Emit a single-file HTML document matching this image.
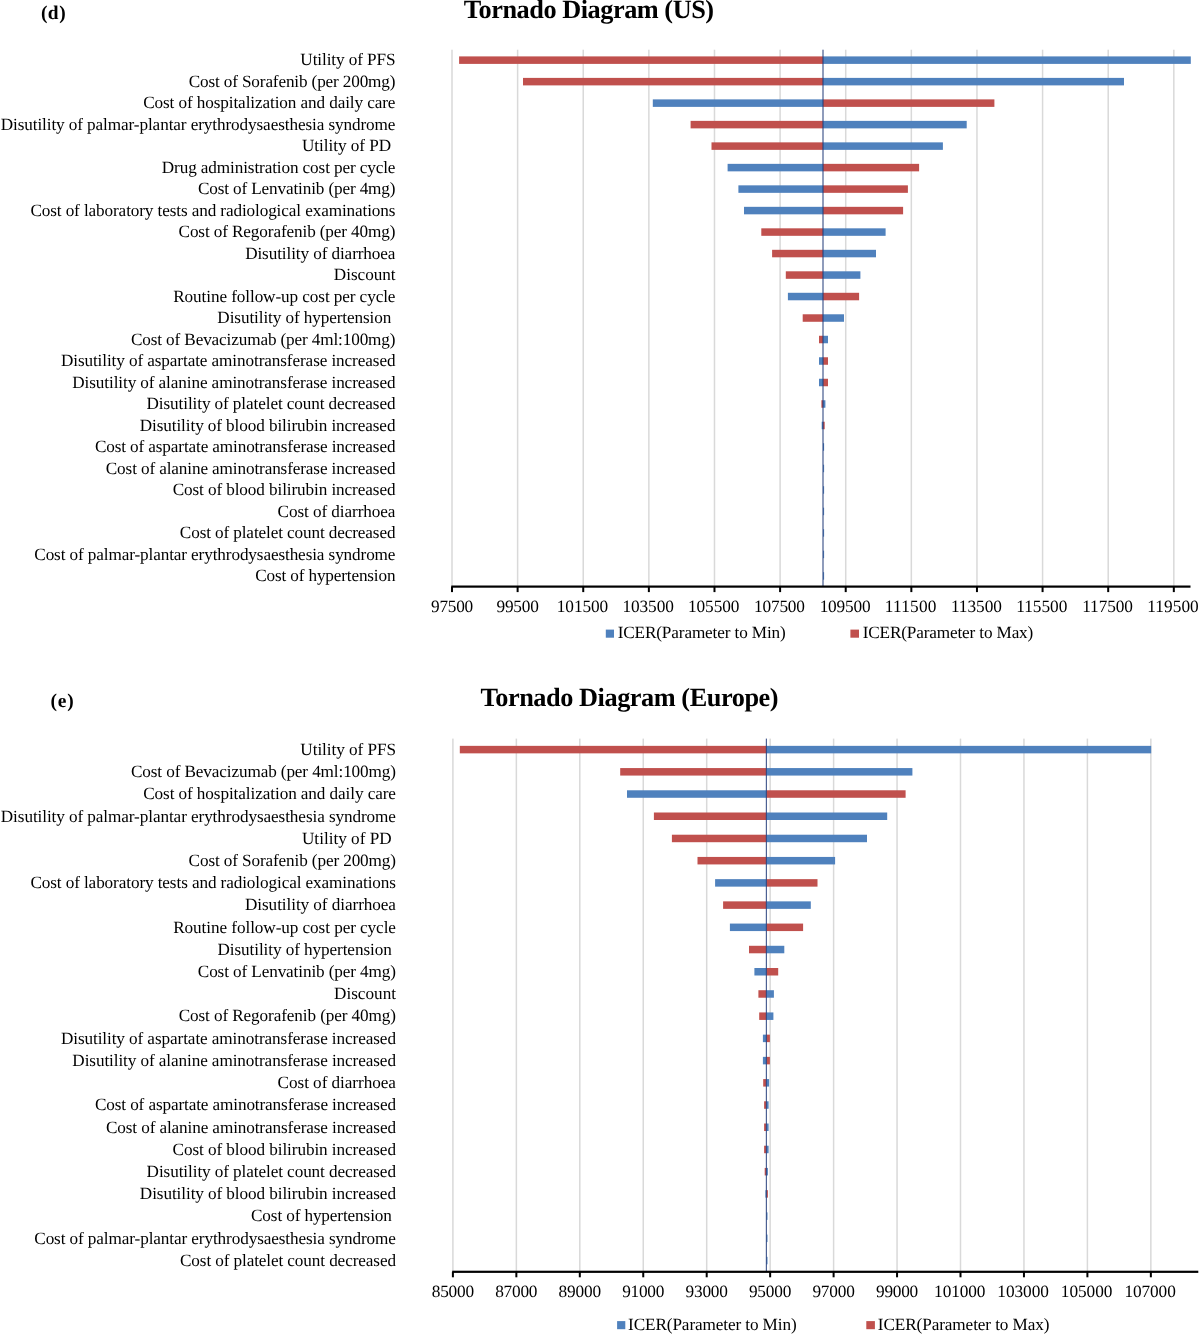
<!DOCTYPE html>
<html><head><meta charset="utf-8"><title>Tornado Diagrams</title>
<style>
html,body{margin:0;padding:0;background:#fff;width:1200px;height:1335px;overflow:hidden;}
svg{display:block;will-change:transform;font-family:"Liberation Serif",serif;text-rendering:geometricPrecision;}
text{fill:#000;}
</style></head><body>
<svg width="1200" height="1335" viewBox="0 0 1200 1335">
<rect width="1200" height="1335" fill="#fff"/>
<rect x="451.25" y="49.7" width="1.5" height="536.9" fill="#D9D9D9"/>
<rect x="516.87" y="49.7" width="1.5" height="536.9" fill="#D9D9D9"/>
<rect x="582.49" y="49.7" width="1.5" height="536.9" fill="#D9D9D9"/>
<rect x="648.11" y="49.7" width="1.5" height="536.9" fill="#D9D9D9"/>
<rect x="713.73" y="49.7" width="1.5" height="536.9" fill="#D9D9D9"/>
<rect x="779.35" y="49.7" width="1.5" height="536.9" fill="#D9D9D9"/>
<rect x="844.97" y="49.7" width="1.5" height="536.9" fill="#D9D9D9"/>
<rect x="910.59" y="49.7" width="1.5" height="536.9" fill="#D9D9D9"/>
<rect x="976.21" y="49.7" width="1.5" height="536.9" fill="#D9D9D9"/>
<rect x="1041.83" y="49.7" width="1.5" height="536.9" fill="#D9D9D9"/>
<rect x="1107.45" y="49.7" width="1.5" height="536.9" fill="#D9D9D9"/>
<rect x="1173.07" y="49.7" width="1.5" height="536.9" fill="#D9D9D9"/>
<rect x="459.1" y="56.4" width="363.9" height="7.5" fill="#C0504D"/>
<rect x="823" y="56.4" width="367.8" height="7.5" fill="#4F81BD"/>
<rect x="523" y="77.89" width="300" height="7.5" fill="#C0504D"/>
<rect x="823" y="77.89" width="301" height="7.5" fill="#4F81BD"/>
<rect x="652.8" y="99.38" width="170.2" height="7.5" fill="#4F81BD"/>
<rect x="823" y="99.38" width="171.4" height="7.5" fill="#C0504D"/>
<rect x="690.6" y="120.87" width="132.4" height="7.5" fill="#C0504D"/>
<rect x="823" y="120.87" width="143.7" height="7.5" fill="#4F81BD"/>
<rect x="711.5" y="142.36" width="111.5" height="7.5" fill="#C0504D"/>
<rect x="823" y="142.36" width="119.9" height="7.5" fill="#4F81BD"/>
<rect x="727.6" y="163.85" width="95.4" height="7.5" fill="#4F81BD"/>
<rect x="823" y="163.85" width="96.1" height="7.5" fill="#C0504D"/>
<rect x="738.4" y="185.34" width="84.6" height="7.5" fill="#4F81BD"/>
<rect x="823" y="185.34" width="84.9" height="7.5" fill="#C0504D"/>
<rect x="744" y="206.83" width="79" height="7.5" fill="#4F81BD"/>
<rect x="823" y="206.83" width="80.1" height="7.5" fill="#C0504D"/>
<rect x="761.3" y="228.32" width="61.7" height="7.5" fill="#C0504D"/>
<rect x="823" y="228.32" width="62.6" height="7.5" fill="#4F81BD"/>
<rect x="772.1" y="249.81" width="50.9" height="7.5" fill="#C0504D"/>
<rect x="823" y="249.81" width="53" height="7.5" fill="#4F81BD"/>
<rect x="785.8" y="271.3" width="37.2" height="7.5" fill="#C0504D"/>
<rect x="823" y="271.3" width="37.4" height="7.5" fill="#4F81BD"/>
<rect x="787.9" y="292.79" width="35.1" height="7.5" fill="#4F81BD"/>
<rect x="823" y="292.79" width="36.1" height="7.5" fill="#C0504D"/>
<rect x="802.7" y="314.28" width="20.3" height="7.5" fill="#C0504D"/>
<rect x="823" y="314.28" width="21" height="7.5" fill="#4F81BD"/>
<rect x="819" y="335.77" width="4" height="7.5" fill="#C0504D"/>
<rect x="823" y="335.77" width="5" height="7.5" fill="#4F81BD"/>
<rect x="819" y="357.26" width="4" height="7.5" fill="#4F81BD"/>
<rect x="823" y="357.26" width="5" height="7.5" fill="#C0504D"/>
<rect x="819" y="378.75" width="4" height="7.5" fill="#4F81BD"/>
<rect x="823" y="378.75" width="5" height="7.5" fill="#C0504D"/>
<rect x="821.4" y="400.24" width="1.6" height="7.5" fill="#C0504D"/>
<rect x="823" y="400.24" width="2.4" height="7.5" fill="#4F81BD"/>
<rect x="821.7" y="421.73" width="1.3" height="7.5" fill="#4F81BD"/>
<rect x="823" y="421.73" width="1.7" height="7.5" fill="#C0504D"/>
<rect x="823" y="443.22" width="1.1" height="7.5" fill="#4F81BD"/>
<rect x="823.1" y="464.71" width="1" height="7.5" fill="#4F81BD"/>
<rect x="823.1" y="486.2" width="1" height="7.5" fill="#4F81BD"/>
<rect x="823.1" y="507.69" width="1" height="7.5" fill="#4F81BD"/>
<rect x="823.1" y="529.18" width="1" height="7.5" fill="#4F81BD"/>
<rect x="823.1" y="550.67" width="1" height="7.5" fill="#4F81BD"/>
<rect x="823.1" y="572.16" width="1" height="7.5" fill="#4F81BD"/>
<rect x="822.2" y="49.7" width="1.6" height="536.9" fill="#1F3A78" fill-opacity="0.62"/>
<rect x="451.3" y="585.5" width="739.2" height="2.2" fill="#000"/>
<rect x="451" y="586.6" width="2" height="5.5" fill="#000"/>
<rect x="516.62" y="586.6" width="2" height="5.5" fill="#000"/>
<rect x="582.24" y="586.6" width="2" height="5.5" fill="#000"/>
<rect x="647.86" y="586.6" width="2" height="5.5" fill="#000"/>
<rect x="713.48" y="586.6" width="2" height="5.5" fill="#000"/>
<rect x="779.1" y="586.6" width="2" height="5.5" fill="#000"/>
<rect x="844.72" y="586.6" width="2" height="5.5" fill="#000"/>
<rect x="910.34" y="586.6" width="2" height="5.5" fill="#000"/>
<rect x="975.96" y="586.6" width="2" height="5.5" fill="#000"/>
<rect x="1041.58" y="586.6" width="2" height="5.5" fill="#000"/>
<rect x="1107.2" y="586.6" width="2" height="5.5" fill="#000"/>
<rect x="1172.82" y="586.6" width="2" height="5.5" fill="#000"/>
<rect x="605.8" y="629.6" width="8.2" height="8.1" fill="#4F81BD"/>
<rect x="850.4" y="629.6" width="8.6" height="8.1" fill="#C0504D"/>
<text x="452.11" y="611.7" font-size="17.3" text-anchor="middle" textLength="42.26" lengthAdjust="spacing" xml:space="preserve">97500</text>
<text x="517.68" y="611.7" font-size="17.3" text-anchor="middle" textLength="42.36" lengthAdjust="spacing" xml:space="preserve">99500</text>
<text x="582.51" y="611.7" font-size="17.3" text-anchor="middle" textLength="51.45" lengthAdjust="spacing" xml:space="preserve">101500</text>
<text x="648.16" y="611.7" font-size="17.3" text-anchor="middle" textLength="51.49" lengthAdjust="spacing" xml:space="preserve">103500</text>
<text x="713.69" y="611.7" font-size="17.3" text-anchor="middle" textLength="51.32" lengthAdjust="spacing" xml:space="preserve">105500</text>
<text x="779.48" y="611.7" font-size="17.3" text-anchor="middle" textLength="51.01" lengthAdjust="spacing" xml:space="preserve">107500</text>
<text x="845.15" y="611.7" font-size="17.3" text-anchor="middle" textLength="51.05" lengthAdjust="spacing" xml:space="preserve">109500</text>
<text x="910.61" y="611.7" font-size="17.3" text-anchor="middle" textLength="51.55" lengthAdjust="spacing" xml:space="preserve">111500</text>
<text x="976.38" y="611.7" font-size="17.3" text-anchor="middle" textLength="51.01" lengthAdjust="spacing" xml:space="preserve">113500</text>
<text x="1041.76" y="611.7" font-size="17.3" text-anchor="middle" textLength="51.27" lengthAdjust="spacing" xml:space="preserve">115500</text>
<text x="1107.57" y="611.7" font-size="17.3" text-anchor="middle" textLength="50.83" lengthAdjust="spacing" xml:space="preserve">117500</text>
<text x="1172.97" y="611.7" font-size="17.3" text-anchor="middle" textLength="51.52" lengthAdjust="spacing" xml:space="preserve">119500</text>
<text x="395.5" y="65.45" font-size="17.2" text-anchor="end" textLength="95.15" lengthAdjust="spacing" xml:space="preserve">Utility of PFS</text>
<text x="395.5" y="86.94" font-size="17.2" text-anchor="end" textLength="206.76" lengthAdjust="spacing" xml:space="preserve">Cost of Sorafenib (per 200mg)</text>
<text x="395.5" y="108.43" font-size="17.2" text-anchor="end" textLength="252.31" lengthAdjust="spacing" xml:space="preserve">Cost of hospitalization and daily care</text>
<text x="395.5" y="129.92" font-size="17.2" text-anchor="end" textLength="394.82" lengthAdjust="spacing" xml:space="preserve">Disutility of palmar-plantar erythrodysaesthesia syndrome</text>
<text x="395.5" y="151.41" font-size="17.2" text-anchor="end" textLength="93.60" lengthAdjust="spacing" xml:space="preserve">Utility of PD </text>
<text x="395.5" y="172.9" font-size="17.2" text-anchor="end" textLength="233.71" lengthAdjust="spacing" xml:space="preserve">Drug administration cost per cycle</text>
<text x="395.5" y="194.39" font-size="17.2" text-anchor="end" textLength="197.55" lengthAdjust="spacing" xml:space="preserve">Cost of Lenvatinib (per 4mg)</text>
<text x="395.5" y="215.88" font-size="17.2" text-anchor="end" textLength="365.09" lengthAdjust="spacing" xml:space="preserve">Cost of laboratory tests and radiological examinations</text>
<text x="395.5" y="237.37" font-size="17.2" text-anchor="end" textLength="216.96" lengthAdjust="spacing" xml:space="preserve">Cost of Regorafenib (per 40mg)</text>
<text x="395.5" y="258.86" font-size="17.2" text-anchor="end" textLength="150.37" lengthAdjust="spacing" xml:space="preserve">Disutility of diarrhoea</text>
<text x="395.5" y="280.35" font-size="17.2" text-anchor="end" textLength="61.64" lengthAdjust="spacing" xml:space="preserve">Discount</text>
<text x="395.5" y="301.84" font-size="17.2" text-anchor="end" textLength="222.29" lengthAdjust="spacing" xml:space="preserve">Routine follow-up cost per cycle</text>
<text x="395.5" y="323.33" font-size="17.2" text-anchor="end" textLength="178.17" lengthAdjust="spacing" xml:space="preserve">Disutility of hypertension </text>
<text x="395.5" y="344.82" font-size="17.2" text-anchor="end" textLength="264.50" lengthAdjust="spacing" xml:space="preserve">Cost of Bevacizumab (per 4ml:100mg)</text>
<text x="395.5" y="366.31" font-size="17.2" text-anchor="end" textLength="334.59" lengthAdjust="spacing" xml:space="preserve">Disutility of aspartate aminotransferase increased</text>
<text x="395.5" y="387.8" font-size="17.2" text-anchor="end" textLength="323.20" lengthAdjust="spacing" xml:space="preserve">Disutility of alanine aminotransferase increased</text>
<text x="395.5" y="409.29" font-size="17.2" text-anchor="end" textLength="248.97" lengthAdjust="spacing" xml:space="preserve">Disutility of platelet count decreased</text>
<text x="395.5" y="430.78" font-size="17.2" text-anchor="end" textLength="255.82" lengthAdjust="spacing" xml:space="preserve">Disutility of blood bilirubin increased</text>
<text x="395.5" y="452.27" font-size="17.2" text-anchor="end" textLength="300.50" lengthAdjust="spacing" xml:space="preserve">Cost of aspartate aminotransferase increased</text>
<text x="395.5" y="473.76" font-size="17.2" text-anchor="end" textLength="289.71" lengthAdjust="spacing" xml:space="preserve">Cost of alanine aminotransferase increased</text>
<text x="395.5" y="495.25" font-size="17.2" text-anchor="end" textLength="222.87" lengthAdjust="spacing" xml:space="preserve">Cost of blood bilirubin increased</text>
<text x="395.5" y="516.74" font-size="17.2" text-anchor="end" textLength="117.92" lengthAdjust="spacing" xml:space="preserve">Cost of diarrhoea</text>
<text x="395.5" y="538.23" font-size="17.2" text-anchor="end" textLength="215.66" lengthAdjust="spacing" xml:space="preserve">Cost of platelet count decreased</text>
<text x="395.5" y="559.72" font-size="17.2" text-anchor="end" textLength="361.19" lengthAdjust="spacing" xml:space="preserve">Cost of palmar-plantar erythrodysaesthesia syndrome</text>
<text x="395.5" y="581.21" font-size="17.2" text-anchor="end" textLength="140.22" lengthAdjust="spacing" xml:space="preserve">Cost of hypertension</text>
<text x="463.83" y="18.45" font-size="26.3" font-weight="bold" textLength="250.30" lengthAdjust="spacing" xml:space="preserve">Tornado Diagram (US)</text>
<text x="40.93" y="18.9" font-size="19.4" font-weight="bold" textLength="24.68" lengthAdjust="spacing" xml:space="preserve">(d)</text>
<text x="617.65" y="638.1" font-size="17.2" textLength="168.10" lengthAdjust="spacing" xml:space="preserve">ICER(Parameter to Min)</text>
<text x="862.68" y="638.1" font-size="17.2" textLength="170.61" lengthAdjust="spacing" xml:space="preserve">ICER(Parameter to Max)</text>
<rect x="452.15" y="738.6" width="1.5" height="533.2" fill="#D9D9D9"/>
<rect x="515.6" y="738.6" width="1.5" height="533.2" fill="#D9D9D9"/>
<rect x="579.05" y="738.6" width="1.5" height="533.2" fill="#D9D9D9"/>
<rect x="642.5" y="738.6" width="1.5" height="533.2" fill="#D9D9D9"/>
<rect x="705.95" y="738.6" width="1.5" height="533.2" fill="#D9D9D9"/>
<rect x="769.4" y="738.6" width="1.5" height="533.2" fill="#D9D9D9"/>
<rect x="832.85" y="738.6" width="1.5" height="533.2" fill="#D9D9D9"/>
<rect x="896.3" y="738.6" width="1.5" height="533.2" fill="#D9D9D9"/>
<rect x="959.75" y="738.6" width="1.5" height="533.2" fill="#D9D9D9"/>
<rect x="1023.2" y="738.6" width="1.5" height="533.2" fill="#D9D9D9"/>
<rect x="1086.65" y="738.6" width="1.5" height="533.2" fill="#D9D9D9"/>
<rect x="1150.1" y="738.6" width="1.5" height="533.2" fill="#D9D9D9"/>
<rect x="459.8" y="745.85" width="306.6" height="7.5" fill="#C0504D"/>
<rect x="766.4" y="745.85" width="384.8" height="7.5" fill="#4F81BD"/>
<rect x="620.2" y="768.07" width="146.2" height="7.5" fill="#C0504D"/>
<rect x="766.4" y="768.07" width="146" height="7.5" fill="#4F81BD"/>
<rect x="627" y="790.28" width="139.4" height="7.5" fill="#4F81BD"/>
<rect x="766.4" y="790.28" width="139.2" height="7.5" fill="#C0504D"/>
<rect x="653.9" y="812.5" width="112.5" height="7.5" fill="#C0504D"/>
<rect x="766.4" y="812.5" width="120.8" height="7.5" fill="#4F81BD"/>
<rect x="671.9" y="834.71" width="94.5" height="7.5" fill="#C0504D"/>
<rect x="766.4" y="834.71" width="100.6" height="7.5" fill="#4F81BD"/>
<rect x="697.5" y="856.93" width="68.9" height="7.5" fill="#C0504D"/>
<rect x="766.4" y="856.93" width="68.7" height="7.5" fill="#4F81BD"/>
<rect x="715.1" y="879.14" width="51.3" height="7.5" fill="#4F81BD"/>
<rect x="766.4" y="879.14" width="51.1" height="7.5" fill="#C0504D"/>
<rect x="723.1" y="901.36" width="43.3" height="7.5" fill="#C0504D"/>
<rect x="766.4" y="901.36" width="44.4" height="7.5" fill="#4F81BD"/>
<rect x="729.9" y="923.57" width="36.5" height="7.5" fill="#4F81BD"/>
<rect x="766.4" y="923.57" width="36.7" height="7.5" fill="#C0504D"/>
<rect x="749" y="945.79" width="17.4" height="7.5" fill="#C0504D"/>
<rect x="766.4" y="945.79" width="17.9" height="7.5" fill="#4F81BD"/>
<rect x="754.4" y="968" width="12" height="7.5" fill="#4F81BD"/>
<rect x="766.4" y="968" width="11.8" height="7.5" fill="#C0504D"/>
<rect x="758.4" y="990.22" width="8" height="7.5" fill="#C0504D"/>
<rect x="766.4" y="990.22" width="7.5" height="7.5" fill="#4F81BD"/>
<rect x="759.2" y="1012.43" width="7.2" height="7.5" fill="#C0504D"/>
<rect x="766.4" y="1012.43" width="7" height="7.5" fill="#4F81BD"/>
<rect x="762.9" y="1034.64" width="3.5" height="7.5" fill="#4F81BD"/>
<rect x="766.4" y="1034.64" width="3.5" height="7.5" fill="#C0504D"/>
<rect x="762.9" y="1056.86" width="3.5" height="7.5" fill="#4F81BD"/>
<rect x="766.4" y="1056.86" width="3.5" height="7.5" fill="#C0504D"/>
<rect x="763.2" y="1079.08" width="3.2" height="7.5" fill="#C0504D"/>
<rect x="766.4" y="1079.08" width="2.7" height="7.5" fill="#4F81BD"/>
<rect x="764.1" y="1101.29" width="2.3" height="7.5" fill="#C0504D"/>
<rect x="766.4" y="1101.29" width="2.2" height="7.5" fill="#4F81BD"/>
<rect x="764.1" y="1123.51" width="2.3" height="7.5" fill="#C0504D"/>
<rect x="766.4" y="1123.51" width="2.2" height="7.5" fill="#4F81BD"/>
<rect x="764.1" y="1145.72" width="2.3" height="7.5" fill="#C0504D"/>
<rect x="766.4" y="1145.72" width="2.2" height="7.5" fill="#4F81BD"/>
<rect x="764.7" y="1167.93" width="1.7" height="7.5" fill="#C0504D"/>
<rect x="766.4" y="1167.93" width="1.5" height="7.5" fill="#4F81BD"/>
<rect x="765.4" y="1190.15" width="1" height="7.5" fill="#4F81BD"/>
<rect x="766.4" y="1190.15" width="1.5" height="7.5" fill="#C0504D"/>
<rect x="766.5" y="1212.37" width="1" height="7.5" fill="#4F81BD"/>
<rect x="766.5" y="1234.58" width="1" height="7.5" fill="#4F81BD"/>
<rect x="766.5" y="1256.8" width="1" height="7.5" fill="#4F81BD"/>
<rect x="765.8" y="738.6" width="1.2" height="533.2" fill="#1F3A78" fill-opacity="0.8"/>
<rect x="452.2" y="1270.7" width="746.1" height="2.2" fill="#000"/>
<rect x="451.9" y="1271.8" width="2" height="5.5" fill="#000"/>
<rect x="515.35" y="1271.8" width="2" height="5.5" fill="#000"/>
<rect x="578.8" y="1271.8" width="2" height="5.5" fill="#000"/>
<rect x="642.25" y="1271.8" width="2" height="5.5" fill="#000"/>
<rect x="705.7" y="1271.8" width="2" height="5.5" fill="#000"/>
<rect x="769.15" y="1271.8" width="2" height="5.5" fill="#000"/>
<rect x="832.6" y="1271.8" width="2" height="5.5" fill="#000"/>
<rect x="896.05" y="1271.8" width="2" height="5.5" fill="#000"/>
<rect x="959.5" y="1271.8" width="2" height="5.5" fill="#000"/>
<rect x="1022.95" y="1271.8" width="2" height="5.5" fill="#000"/>
<rect x="1086.4" y="1271.8" width="2" height="5.5" fill="#000"/>
<rect x="1149.85" y="1271.8" width="2" height="5.5" fill="#000"/>
<rect x="617.1" y="1321.1" width="8.2" height="8.1" fill="#4F81BD"/>
<rect x="866.3" y="1321.1" width="8.6" height="8.1" fill="#C0504D"/>
<text x="452.93" y="1296.7" font-size="17.3" text-anchor="middle" textLength="42.47" lengthAdjust="spacing" xml:space="preserve">85000</text>
<text x="516.32" y="1296.7" font-size="17.3" text-anchor="middle" textLength="42.37" lengthAdjust="spacing" xml:space="preserve">87000</text>
<text x="579.81" y="1296.7" font-size="17.3" text-anchor="middle" textLength="42.55" lengthAdjust="spacing" xml:space="preserve">89000</text>
<text x="643.23" y="1296.7" font-size="17.3" text-anchor="middle" textLength="42.09" lengthAdjust="spacing" xml:space="preserve">91000</text>
<text x="706.7" y="1296.7" font-size="17.3" text-anchor="middle" textLength="42.31" lengthAdjust="spacing" xml:space="preserve">93000</text>
<text x="770.11" y="1296.7" font-size="17.3" text-anchor="middle" textLength="42.43" lengthAdjust="spacing" xml:space="preserve">95000</text>
<text x="833.63" y="1296.7" font-size="17.3" text-anchor="middle" textLength="42.42" lengthAdjust="spacing" xml:space="preserve">97000</text>
<text x="897.16" y="1296.7" font-size="17.3" text-anchor="middle" textLength="42.14" lengthAdjust="spacing" xml:space="preserve">99000</text>
<text x="959.74" y="1296.7" font-size="17.3" text-anchor="middle" textLength="51.28" lengthAdjust="spacing" xml:space="preserve">101000</text>
<text x="1023.15" y="1296.7" font-size="17.3" text-anchor="middle" textLength="51.57" lengthAdjust="spacing" xml:space="preserve">103000</text>
<text x="1086.61" y="1296.7" font-size="17.3" text-anchor="middle" textLength="51.58" lengthAdjust="spacing" xml:space="preserve">105000</text>
<text x="1150.1" y="1296.7" font-size="17.3" text-anchor="middle" textLength="51.44" lengthAdjust="spacing" xml:space="preserve">107000</text>
<text x="396" y="754.9" font-size="17.2" text-anchor="end" textLength="95.69" lengthAdjust="spacing" xml:space="preserve">Utility of PFS</text>
<text x="396" y="777.12" font-size="17.2" text-anchor="end" textLength="265.02" lengthAdjust="spacing" xml:space="preserve">Cost of Bevacizumab (per 4ml:100mg)</text>
<text x="396" y="799.33" font-size="17.2" text-anchor="end" textLength="252.83" lengthAdjust="spacing" xml:space="preserve">Cost of hospitalization and daily care</text>
<text x="396" y="821.54" font-size="17.2" text-anchor="end" textLength="395.21" lengthAdjust="spacing" xml:space="preserve">Disutility of palmar-plantar erythrodysaesthesia syndrome</text>
<text x="396" y="843.76" font-size="17.2" text-anchor="end" textLength="94.06" lengthAdjust="spacing" xml:space="preserve">Utility of PD </text>
<text x="396" y="865.98" font-size="17.2" text-anchor="end" textLength="207.41" lengthAdjust="spacing" xml:space="preserve">Cost of Sorafenib (per 200mg)</text>
<text x="396" y="888.19" font-size="17.2" text-anchor="end" textLength="365.61" lengthAdjust="spacing" xml:space="preserve">Cost of laboratory tests and radiological examinations</text>
<text x="396" y="910.4" font-size="17.2" text-anchor="end" textLength="151.03" lengthAdjust="spacing" xml:space="preserve">Disutility of diarrhoea</text>
<text x="396" y="932.62" font-size="17.2" text-anchor="end" textLength="222.78" lengthAdjust="spacing" xml:space="preserve">Routine follow-up cost per cycle</text>
<text x="396" y="954.84" font-size="17.2" text-anchor="end" textLength="178.59" lengthAdjust="spacing" xml:space="preserve">Disutility of hypertension </text>
<text x="396" y="977.05" font-size="17.2" text-anchor="end" textLength="198.21" lengthAdjust="spacing" xml:space="preserve">Cost of Lenvatinib (per 4mg)</text>
<text x="396" y="999.26" font-size="17.2" text-anchor="end" textLength="62.00" lengthAdjust="spacing" xml:space="preserve">Discount</text>
<text x="396" y="1021.48" font-size="17.2" text-anchor="end" textLength="217.31" lengthAdjust="spacing" xml:space="preserve">Cost of Regorafenib (per 40mg)</text>
<text x="396" y="1043.69" font-size="17.2" text-anchor="end" textLength="335.10" lengthAdjust="spacing" xml:space="preserve">Disutility of aspartate aminotransferase increased</text>
<text x="396" y="1065.91" font-size="17.2" text-anchor="end" textLength="323.69" lengthAdjust="spacing" xml:space="preserve">Disutility of alanine aminotransferase increased</text>
<text x="396" y="1088.12" font-size="17.2" text-anchor="end" textLength="118.44" lengthAdjust="spacing" xml:space="preserve">Cost of diarrhoea</text>
<text x="396" y="1110.34" font-size="17.2" text-anchor="end" textLength="301.02" lengthAdjust="spacing" xml:space="preserve">Cost of aspartate aminotransferase increased</text>
<text x="396" y="1132.56" font-size="17.2" text-anchor="end" textLength="290.05" lengthAdjust="spacing" xml:space="preserve">Cost of alanine aminotransferase increased</text>
<text x="396" y="1154.77" font-size="17.2" text-anchor="end" textLength="223.39" lengthAdjust="spacing" xml:space="preserve">Cost of blood bilirubin increased</text>
<text x="396" y="1176.98" font-size="17.2" text-anchor="end" textLength="249.42" lengthAdjust="spacing" xml:space="preserve">Disutility of platelet count decreased</text>
<text x="396" y="1199.2" font-size="17.2" text-anchor="end" textLength="256.20" lengthAdjust="spacing" xml:space="preserve">Disutility of blood bilirubin increased</text>
<text x="396" y="1221.41" font-size="17.2" text-anchor="end" textLength="144.97" lengthAdjust="spacing" xml:space="preserve">Cost of hypertension </text>
<text x="396" y="1243.63" font-size="17.2" text-anchor="end" textLength="361.71" lengthAdjust="spacing" xml:space="preserve">Cost of palmar-plantar erythrodysaesthesia syndrome</text>
<text x="396" y="1265.85" font-size="17.2" text-anchor="end" textLength="216.01" lengthAdjust="spacing" xml:space="preserve">Cost of platelet count decreased</text>
<text x="480.55" y="705.9" font-size="26.3" font-weight="bold" textLength="298.04" lengthAdjust="spacing" xml:space="preserve">Tornado Diagram (Europe)</text>
<text x="50.45" y="706.5" font-size="19.4" font-weight="bold" textLength="23.39" lengthAdjust="spacing" xml:space="preserve">(e)</text>
<text x="628.11" y="1330" font-size="17.2" textLength="168.51" lengthAdjust="spacing" xml:space="preserve">ICER(Parameter to Min)</text>
<text x="877.81" y="1330" font-size="17.2" textLength="171.68" lengthAdjust="spacing" xml:space="preserve">ICER(Parameter to Max)</text>
</svg>
</body></html>
